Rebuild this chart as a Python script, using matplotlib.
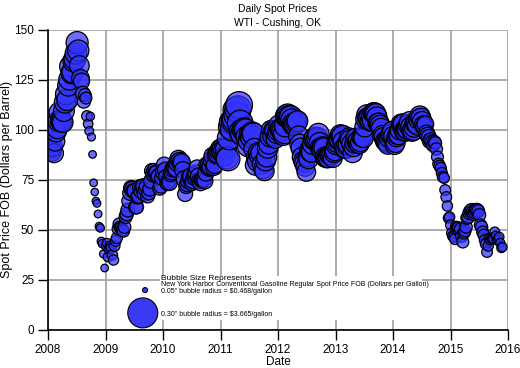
import numpy as np
import pandas as pd
import matplotlib
matplotlib.use("Agg")
import matplotlib.pyplot as plt
import matplotlib.dates as mdates
from matplotlib.patches import Rectangle

plt.rcParams['font.family'] = ['Liberation Sans', 'DejaVu Sans']

# weekly WTI spot price (Dollars per Barrel), Fridays, one list per year
wti_2008 = [97.9, 94.0, 90.6, 89.0, 91.5, 88.4, 94.3, 99.0, 100.7, 104.5, 108.7, 104.8, 104.3,
            103.9, 109.5, 113.8, 117.9, 115.0, 122.3, 125.3, 131.8, 128.5, 128.9, 134.5, 135.5,
            138.3, 143.7, 139.7, 132.2, 125.8, 124.4, 118.2, 114.3, 117.5, 116.0, 107.0, 103.0,
            99.5, 106.8, 96.5, 87.8, 73.6, 69.0, 64.5, 63.3, 58.0, 51.8, 51.0, 44.3, 43.2, 38.0, 31.0]
wti_2009 = [42.0, 43.5, 36.5, 40.5, 42.0, 41.0, 37.5, 35.0, 42.0, 44.5, 46.0, 50.5, 53.0,
            51.5, 51.0, 50.0, 49.5, 51.5, 56.5, 58.0, 60.0, 64.5, 68.5, 71.0, 70.5, 69.5,
            69.5, 61.5, 61.5, 66.5, 67.0, 71.5, 69.5, 71.5, 72.0, 68.0, 70.5, 72.0, 67.0,
            68.5, 70.5, 74.5, 79.5, 78.0, 79.5, 78.5, 78.5, 76.5, 77.0, 71.0, 72.0, 76.0]
wti_2010 = [79.0, 82.5, 80.0, 76.5, 73.5, 74.5, 73.5, 78.0, 79.0, 80.5, 81.5, 81.0, 80.5,
            83.5, 85.5, 84.5, 83.5, 84.0, 80.0, 75.5, 68.0, 72.0, 73.0, 74.5, 76.5, 77.0,
            73.5, 74.5, 76.5, 77.5, 78.5, 81.0, 77.0, 74.5, 73.5, 75.0, 75.0, 75.5, 74.5,
            78.5, 82.5, 82.0, 81.0, 81.5, 85.0, 87.0, 81.5, 82.5, 87.5, 88.5, 88.0, 89.5, 90.5]
wti_2011 = [89.5, 91.0, 90.0, 87.0, 90.5, 86.0, 85.5, 96.0, 101.5, 104.0, 100.5, 104.5,
            105.5, 110.0, 107.5, 110.5, 112.5, 103.5, 99.0, 98.0, 100.0, 100.5, 100.0, 96.5, 92.0,
            94.5, 97.5, 96.5, 98.5, 98.0, 90.5, 82.5, 86.5, 84.5, 88.5, 87.0, 88.5, 83.0, 80.5,
            79.5, 84.5, 86.5, 91.0, 93.0, 96.5, 100.0, 97.0, 100.0, 99.5, 95.5, 98.0, 99.5]
wti_2012 = [102.5, 100.5, 100.5, 99.5, 97.5, 98.5, 102.0, 107.0, 107.5, 106.5, 106.0, 106.5,
            105.0, 103.0, 102.5, 103.0, 104.0, 104.5, 97.0, 93.0, 91.0, 86.5, 84.5, 83.5, 81.5,
            79.0, 86.5, 85.5, 90.0, 89.0, 89.0, 93.0, 95.5, 96.0, 95.0, 96.0, 98.0, 93.5, 91.0,
            90.5, 91.5, 91.0, 86.5, 86.0, 86.0, 86.0, 87.5, 87.5, 87.5, 86.0, 88.5, 89.5]
wti_2013 = [92.5, 93.5, 95.0, 95.5, 97.5, 96.5, 97.0, 94.0, 91.0, 91.0, 92.5, 93.0, 96.0,
            95.0, 93.0, 88.5, 91.5, 93.5, 96.0, 94.0, 94.5, 93.0, 94.0, 96.5, 96.5, 96.0,
            101.5, 105.5, 107.5, 106.0, 106.0, 104.5, 106.5, 104.5, 108.5, 108.5, 108.0, 106.5,
            103.5, 103.5, 102.5, 101.0, 97.5, 96.5, 94.5, 94.0, 93.5, 92.5, 96.0, 97.5, 98.0, 99.5]
wti_2014 = [97.0, 92.5, 93.5, 96.5, 97.5, 97.5, 100.0, 103.0, 102.5, 103.0, 99.5, 99.5, 100.5,
            100.5, 102.5, 104.0, 101.5, 99.5, 100.0, 101.5, 103.5, 103.5, 102.5, 105.5, 107.0,
            106.0, 104.5, 102.5, 102.0, 103.0, 98.5, 97.5, 96.5, 94.5, 95.0, 94.0, 92.5, 94.0,
            93.5, 90.5, 86.5, 83.0, 82.0, 81.0, 78.5, 76.5, 76.0, 70.0, 66.5, 62.0, 56.0, 56.5]
wti_2015 = [52.5, 48.5, 47.0, 46.5, 45.5, 51.5, 51.0, 51.0, 49.5, 50.5, 47.0, 44.0, 48.5,
            49.5, 51.5, 56.0, 56.5, 58.5, 59.5, 60.0, 59.0, 58.0, 59.0, 60.0, 60.0, 59.5,
            57.5, 52.5, 51.5, 49.0, 47.5, 45.0, 43.0, 39.0, 42.0, 46.0, 45.0, 46.0, 45.5,
            45.5, 49.0, 47.0, 45.0, 45.5, 46.5, 43.5, 41.0, 41.5]

# weekly NY Harbor conventional gasoline spot price (Dollars per Gallon) -> bubble size
gas_2008 = [2.35, 2.30, 2.25, 2.20, 2.25, 2.25, 2.30, 2.35, 2.40, 2.45, 2.50, 2.45, 2.45,
            2.45, 2.50, 2.55, 2.55, 2.50, 2.55, 2.55, 2.60, 2.55, 2.55, 2.60, 2.60, 2.60,
            2.65, 2.55, 2.35, 2.10, 1.90, 1.70, 1.55, 1.45, 1.35, 1.20, 1.05, 0.95, 0.90,
            0.85, 0.80, 0.80, 0.78, 0.78, 0.80, 0.82, 0.85, 0.88, 0.90, 0.92, 0.85, 0.80]
gas_2009 = [0.95, 1.00, 1.05, 1.10, 1.12, 1.15, 1.15, 1.15, 1.20, 1.20, 1.25, 1.30, 1.35,
            1.35, 1.40, 1.40, 1.40, 1.45, 1.50, 1.55, 1.60, 1.65, 1.70, 1.75, 1.75, 1.70,
            1.70, 1.60, 1.60, 1.65, 1.65, 1.70, 1.70, 1.70, 1.70, 1.65, 1.65, 1.65, 1.60,
            1.60, 1.65, 1.70, 1.75, 1.75, 1.75, 1.75, 1.75, 1.70, 1.70, 1.65, 1.65, 1.70]
gas_2010 = [1.80, 1.85, 1.85, 1.80, 1.75, 1.75, 1.75, 1.80, 1.85, 1.90, 1.90, 1.95, 1.95,
            2.00, 2.05, 2.05, 2.00, 2.00, 1.95, 1.85, 1.75, 1.75, 1.80, 1.80, 1.85, 1.85,
            1.80, 1.80, 1.85, 1.85, 1.90, 1.90, 1.85, 1.80, 1.80, 1.80, 1.80, 1.85, 1.85,
            1.90, 1.95, 1.95, 1.95, 1.95, 2.00, 2.05, 2.00, 2.00, 2.10, 2.15, 2.20, 2.25, 2.30]
gas_2011 = [2.35, 2.40, 2.40, 2.40, 2.50, 2.65, 2.85, 2.85, 2.85, 2.90, 2.90, 2.95,
            3.00, 3.10, 3.15, 3.20, 3.25, 3.10, 2.90, 2.80, 2.75, 2.70, 2.65, 2.60, 2.55,
            2.55, 2.60, 2.60, 2.65, 2.65, 2.55, 2.45, 2.45, 2.50, 2.55, 2.50, 2.45, 2.35, 2.30,
            2.30, 2.35, 2.40, 2.45, 2.40, 2.35, 2.30, 2.25, 2.25, 2.25, 2.20, 2.25, 2.30]
gas_2012 = [2.35, 2.40, 2.40, 2.45, 2.50, 2.55, 2.60, 2.65, 2.65, 2.70, 2.70, 2.70, 2.65,
            2.60, 2.55, 2.55, 2.50, 2.45, 2.40, 2.35, 2.35, 2.30, 2.25, 2.25, 2.20, 2.20,
            2.25, 2.30, 2.35, 2.40, 2.45, 2.50, 2.55, 2.55, 2.55, 2.55, 2.55, 2.50, 2.45,
            2.45, 2.45, 2.40, 2.35, 2.30, 2.30, 2.30, 2.30, 2.30, 2.30, 2.25, 2.25, 2.30]
gas_2013 = [2.30, 2.30, 2.35, 2.40, 2.45, 2.50, 2.55, 2.55, 2.50, 2.45, 2.45, 2.40, 2.40,
            2.40, 2.35, 2.30, 2.30, 2.35, 2.35, 2.35, 2.35, 2.30, 2.30, 2.30, 2.30, 2.30,
            2.35, 2.40, 2.45, 2.45, 2.45, 2.40, 2.40, 2.40, 2.45, 2.45, 2.45, 2.40, 2.35,
            2.35, 2.30, 2.30, 2.25, 2.25, 2.20, 2.20, 2.20, 2.20, 2.25, 2.25, 2.30, 2.30]
gas_2014 = [2.30, 2.25, 2.25, 2.30, 2.30, 2.30, 2.35, 2.35, 2.35, 2.40, 2.40, 2.40, 2.40,
            2.45, 2.45, 2.50, 2.45, 2.45, 2.45, 2.45, 2.45, 2.45, 2.40, 2.40, 2.40, 2.35,
            2.25, 2.10, 2.00, 1.95, 1.85, 1.80, 1.75, 1.70, 1.65, 1.60, 1.55, 1.50, 1.45,
            1.40, 1.35, 1.30, 1.30, 1.25, 1.25, 1.25, 1.20, 1.20, 1.20, 1.15, 1.15, 1.15]
gas_2015 = [1.15, 1.15, 1.20, 1.20, 1.25, 1.30, 1.35, 1.40, 1.40, 1.40, 1.40, 1.35, 1.35,
            1.35, 1.40, 1.45, 1.45, 1.50, 1.50, 1.50, 1.50, 1.50, 1.50, 1.50, 1.50, 1.45,
            1.45, 1.40, 1.40, 1.35, 1.30, 1.25, 1.25, 1.20, 1.15, 1.15, 1.10, 1.10, 1.10,
            1.10, 1.10, 1.05, 1.05, 1.05, 1.05, 1.00, 1.00, 1.00]

first_friday = {2008: '2008-01-04', 2009: '2009-01-02', 2010: '2010-01-01', 2011: '2011-01-07',
                2012: '2012-01-06', 2013: '2013-01-04', 2014: '2014-01-03', 2015: '2015-01-02'}
wti_by_year = [wti_2008, wti_2009, wti_2010, wti_2011, wti_2012, wti_2013, wti_2014, wti_2015]
gas_by_year = [gas_2008, gas_2009, gas_2010, gas_2011, gas_2012, gas_2013, gas_2014, gas_2015]

dates = []
for yr, w in zip(first_friday, wti_by_year):
    dates.extend(pd.date_range(first_friday[yr], periods=len(w), freq='7D'))
wti = np.concatenate(wti_by_year)
gas = np.concatenate(gas_by_year)

gas_min, gas_max = 0.468, 3.665
dpi = 100
px_per_in = 50  # bubble scale as drawn in the reference


def bubble_s(g):
    r_in = 0.05 + 0.25 * (np.asarray(g) - gas_min) / (gas_max - gas_min)
    d_pt = 2 * r_in * px_per_in * 72 / dpi
    return d_pt ** 2


fig = plt.figure(figsize=(5.2, 3.68), dpi=dpi)
ax = fig.add_axes([48 / 520, 1 - 330 / 368, 460 / 520, 300 / 368])

ax.scatter(dates, wti, s=bubble_s(gas), facecolor=(0.2, 0.2, 1.0, 0.72),
           edgecolor='black', linewidth=0.9, zorder=3)

ax.set_xlim(pd.Timestamp('2008-01-01'), pd.Timestamp('2016-01-01'))
ax.set_ylim(0, 150)
ax.set_yticks([0, 25, 50, 75, 100, 125, 150])
ax.xaxis.set_major_locator(mdates.YearLocator())
ax.xaxis.set_major_formatter(mdates.DateFormatter('%Y'))
ax.grid(True, color='#a0a0a0', linewidth=1.2, zorder=0)
ax.set_axisbelow(True)
for side in ['top', 'right']:
    ax.spines[side].set_visible(False)
for side in ['left', 'bottom']:
    ax.spines[side].set_linewidth(1.2)
    ax.spines[side].set_zorder(4)
ax.tick_params(length=7, width=1, labelsize=8.5, pad=3)

ax.set_ylabel('Spot Price FOB (Dollars per Barrel)', fontsize=9, labelpad=1)
ax.set_xlabel('Date', fontsize=8.5, labelpad=0)
ax.set_title('Daily Spot Prices\nWTI - Cushing, OK', fontsize=7.5, linespacing=1.45, pad=3)

# bubble size legend
ax.add_patch(Rectangle((0.243, 0.035), 0.57, 0.145, transform=ax.transAxes,
                       facecolor='white', edgecolor='none', zorder=1))
ax.scatter([0.211, 0.206], [0.133, 0.057], s=bubble_s([gas_min, gas_max]),
           transform=ax.transAxes, facecolor='#3a3af5', edgecolor='black',
           linewidth=0.8, zorder=5, clip_on=False)
ax.text(0.245, 0.173, 'Bubble Size Represents', transform=ax.transAxes,
        fontsize=6, va='center', zorder=6)
ax.text(0.245, 0.151, 'New York Harbor Conventional Gasoline Regular Spot Price FOB (Dollars per Gallon)',
        transform=ax.transAxes, fontsize=5.0, va='center', zorder=6)
ax.text(0.245, 0.129, '0.05" bubble radius = $0.468/gallon', transform=ax.transAxes,
        fontsize=5.0, va='center', zorder=6)
ax.text(0.245, 0.053, '0.30" bubble radius = $3.665/gallon', transform=ax.transAxes,
        fontsize=5.0, va='center', zorder=6)

fig.savefig('out.png', dpi=dpi)
